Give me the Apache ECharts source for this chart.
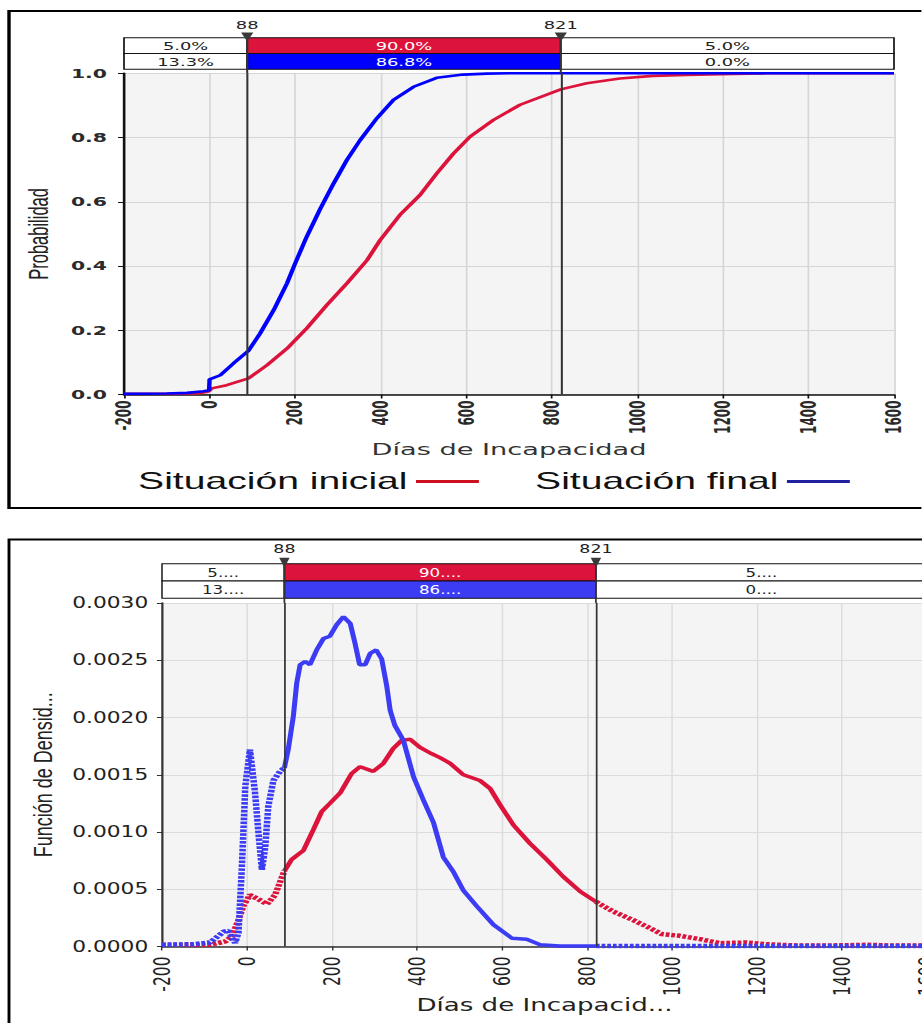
<!DOCTYPE html>
<html>
<head>
<meta charset="utf-8">
<script src="https://cdn.jsdelivr.net/npm/echarts@6/dist/echarts.min.js"></script>
<style>
  html, body { margin:0; padding:0; background:#fff; overflow:hidden; width:922px; height:1023px; }
  #top { position:absolute; left:0; top:0; width:542.35px; height:520px; transform:scaleX(1.7); transform-origin:0 0; }
  #bot { position:absolute; left:0; top:520px; width:635.86px; height:503px; transform:scaleX(1.45); transform-origin:0 0; }
</style>
</head>
<body>
<div id="top"></div>
<div id="bot"></div>
<script>
// ---------------- DATA ----------------
const xTicks = { min: -200, max: 1600, step: 200 };
const thresholds = [88, 821];
const seriesNames = ['Situación inicial', 'Situación final'];

// Top chart header (percentages per band)
const topRowInicial = ['5.0%', '90.0%', '5.0%'];
const topRowFinal = ['13.3%', '86.8%', '0.0%'];
// Bottom chart header (truncated labels)
const botRowInicial = ['5....', '90....', '5....'];
const botRowFinal = ['13....', '86....', '0....'];

// Cumulative probability – Situación inicial
const cdfInicialX = [-200, -30, -6, 0, 5, 40, 91, 134, 181, 227, 274, 321, 368, 399, 445, 492, 531, 570, 609, 664, 726, 821, 882, 959, 1037, 1115, 1224, 1300, 1600];
const cdfInicialY = [0.002, 0.003, 0.008, 0.012, 0.019, 0.029, 0.05, 0.091, 0.143, 0.206, 0.278, 0.346, 0.418, 0.481, 0.559, 0.621, 0.688, 0.75, 0.803, 0.855, 0.902, 0.95, 0.969, 0.984, 0.992, 0.995, 0.998, 1.0, 1.0];
// Cumulative probability – Situación final
const cdfFinalX = [-200, -100, -53, -14, -1, 0, 25, 56, 91, 118, 150, 181, 200, 227, 259, 290, 321, 352, 391, 430, 477, 531, 593, 648, 700, 1600];
const cdfFinalY = [0.002, 0.003, 0.005, 0.01, 0.013, 0.047, 0.06, 0.097, 0.136, 0.19, 0.263, 0.346, 0.408, 0.491, 0.579, 0.657, 0.73, 0.792, 0.86, 0.917, 0.958, 0.986, 0.996, 0.999, 1.0, 1.0];

// Density – Situación inicial
const pdfInicialX = [-200, -126, -87, -51, -36, -20, -8, 7, 23, 47, 66, 88, 105, 133, 156, 176, 195, 219, 246, 266, 297, 321, 344, 364, 384, 407, 431, 454, 478, 509, 548, 572, 595, 627, 666, 705, 744, 784, 821, 862, 909, 941, 976, 1019, 1066, 1113, 1176, 1223, 1293, 1400, 1458, 1520, 1600];
const pdfInicialY = [0.000015, 0.000015, 0.000015, 0.000044, 0.000087, 0.00023, 0.00036, 0.00045, 0.00042, 0.00037, 0.00045, 0.00066, 0.00076, 0.00084, 0.00102, 0.00118, 0.00125, 0.00134, 0.00151, 0.00157, 0.00153, 0.0016, 0.00173, 0.0018, 0.00181, 0.00174, 0.00169, 0.00165, 0.0016, 0.0015, 0.00145, 0.00138, 0.00124, 0.00106, 0.0009, 0.00076, 0.00061, 0.00048, 0.00039, 0.000305, 0.00023, 0.000174, 0.000108, 0.000093, 0.000064, 0.000029, 0.000035, 0.00002, 0.000009, 0.00001, 0.000015, 0.000008, 0.000008];
// Density – Situación final
const pdfFinalX = [-200, -126, -87, -55, -44, -28, -20, -12, -4, 7, 19, 27, 35, 43, 50, 62, 78, 88, 97, 109, 117, 125, 137, 148, 164, 180, 195, 211, 227, 243, 254, 265, 278, 290, 304, 317, 329, 337, 348, 368, 392, 415, 439, 462, 486, 509, 541, 580, 623, 658, 690, 736, 800, 821, 1000, 1200, 1400, 1600];
const pdfFinalY = [0.000015, 0.00002, 0.000035, 0.00013, 0.000137, 0.00003, 0.00012, 0.0007, 0.0014, 0.00172, 0.00134, 0.00099, 0.00067, 0.00087, 0.00122, 0.00145, 0.00153, 0.00156, 0.00172, 0.00201, 0.0023, 0.00246, 0.00249, 0.00246, 0.00259, 0.00269, 0.00271, 0.00281, 0.00288, 0.00282, 0.00265, 0.00246, 0.00246, 0.00256, 0.00259, 0.00251, 0.00227, 0.00206, 0.00193, 0.0018, 0.00148, 0.00128, 0.00108, 0.00078, 0.00065, 0.00049, 0.00035, 0.00019, 0.000073, 0.000064, 0.000015, 0.000005, 0.000005, 0.000005, 0.000005, 0.000005, 0.000005, 0.000005];

// ---------------- HELPERS ----------------
const RED = '#dc143c';
const FONT = 'DejaVu Sans';
const zip = (xs, ys) => xs.map((x, i) => [x, ys[i]]);
const seg = (xs, ys, lo, hi) => zip(xs, ys).filter(p => p[0] >= lo && p[0] <= hi);
const bounds = [xTicks.min, ...thresholds, xTicks.max];

function headerCells(rows, fills, font, gi) {
  const data = [];
  const labels = [];
  rows.forEach((row, r) => row.forEach((t, i) => { data.push([bounds[i], bounds[i + 1], r, i]); labels.push(t); }));
  return {
    type: 'custom', xAxisIndex: gi, yAxisIndex: gi, silent: true, z: 5,
    data,
    renderItem(params, api) {
      const x0 = api.value(0), x1 = api.value(1), r = api.value(2), i = api.value(3);
      const p0 = api.coord([x0, 2 - r]), p1 = api.coord([x1, 1 - r]);
      const mid = i === 1;
      return { type: 'group', children: [
        { type: 'rect', shape: { x: p0[0], y: p0[1], width: p1[0] - p0[0], height: p1[1] - p0[1] },
          style: { fill: mid ? fills[r] : '#ffffff', stroke: '#111', lineWidth: 1 } },
        { type: 'text', x: (p0[0] + p1[0]) / 2, y: (p0[1] + p1[1]) / 2 + 0.5,
          style: { text: labels[params.dataIndex], fill: mid ? '#ffffff' : '#222', font, align: 'center', verticalAlign: 'middle' } }
      ] };
    }
  };
}

function headerMarkers(gi, yMin, font, tw, tUp, tDown, lblOff) {
  return {
    type: 'custom', xAxisIndex: gi, yAxisIndex: gi, silent: true, z: 6,
    data: thresholds.map(t => [t]),
    renderItem(params, api) {
      const t = api.value(0);
      const a = api.coord([t, 2]), b = api.coord([t, yMin]);
      return { type: 'group', children: [
        { type: 'line', shape: { x1: a[0], y1: a[1], x2: b[0], y2: b[1] }, style: { stroke: '#333', lineWidth: 1.2 } },
        { type: 'polygon', shape: { points: [[a[0] - tw, a[1] - tUp], [a[0] + tw, a[1] - tUp], [a[0], a[1] + tDown]] }, style: { fill: '#3a3a3a' } },
        { type: 'text', x: a[0], y: a[1] - lblOff, style: { text: String(t), font, fill: '#222', align: 'center', verticalAlign: 'middle' } }
      ] };
    }
  };
}

function hiddenAxes(gi, yMin) {
  return {
    x: { gridIndex: gi, type: 'value', min: xTicks.min, max: xTicks.max, show: false },
    y: { gridIndex: gi, type: 'value', min: yMin, max: 2, show: false }
  };
}

const threshMarkLine = {
  silent: true, symbol: 'none', animation: false,
  label: { show: false },
  lineStyle: { color: '#333', width: 1.2, type: 'solid' },
  data: thresholds.map(t => ({ xAxis: t }))
};

// ---------------- TOP CHART ----------------
const S1 = 1.7;
const topHdrMin = -0.25;
const hT = hiddenAxes(1, topHdrMin);
const topChart = echarts.init(document.getElementById('top'), null, { renderer: 'svg' });
topChart.setOption({
  animation: false,
  grid: [
    { left: 124 / S1, width: 770 / S1, top: 73.3, height: 321.2, show: true, backgroundColor: '#f4f4f4', borderWidth: 0, outerBoundsMode: 'none', containLabel: false },
    { left: 124 / S1, width: 770 / S1, top: 37.7, height: 35.6, show: false, outerBoundsMode: 'none', containLabel: false }
  ],
  xAxis: [
    { gridIndex: 0, type: 'value', min: xTicks.min, max: xTicks.max, interval: xTicks.step,
      name: 'Días de Incapacidad', nameLocation: 'middle', nameGap: 47, nameMoveOverlap: false,
      nameTextStyle: { fontFamily: FONT, fontSize: 16, color: '#333' },
      axisLine: { show: true, onZero: false, lineStyle: { color: '#111', width: 1.5 } },
      axisTick: { show: true, length: 4, lineStyle: { color: '#111' } },
      axisLabel: { rotate: 90, formatter: v => String(v), fontFamily: FONT, fontWeight: 'bold', fontSize: 12, color: '#2a2a2a', margin: 6 },
      splitLine: { show: true, lineStyle: { color: '#d6d6d6', width: 1 } } },
    hT.x
  ],
  yAxis: [
    { gridIndex: 0, type: 'value', min: 0, max: 1, interval: 0.2,
      name: 'Probabilidad', nameLocation: 'middle', nameGap: 36,
      nameTextStyle: { fontFamily: 'Liberation Sans', fontSize: 16.5, color: '#222' },
      axisLine: { show: true, onZero: false, lineStyle: { color: '#111', width: 1.5 } },
      axisTick: { show: true, length: 3.5, lineStyle: { color: '#111' } },
      axisLabel: { formatter: v => v.toFixed(1), fontFamily: FONT, fontWeight: 'bold', fontSize: 12, color: '#2a2a2a', margin: 10 },
      splitLine: { show: true, lineStyle: { color: '#d6d6d6', width: 1 } } },
    hT.y
  ],
  legend: {
    left: 138 / S1, top: 470, padding: 0, align: 'right', icon: 'rect', itemWidth: 37, itemHeight: 3, itemGap: 33,
    selectedMode: false,
    textStyle: { fontFamily: 'Liberation Sans', fontSize: 23, color: '#111' },
    data: [
      { name: seriesNames[0], itemStyle: { color: '#cc1020' } },
      { name: seriesNames[1], itemStyle: { color: '#2020a0' } }
    ]
  },
  graphic: [
    { type: 'rect', silent: true, shape: { x: 9 / S1, y: 11, width: 620, height: 497 }, style: { fill: 'none', stroke: '#000', lineWidth: 2 } }
  ],
  series: [
    { name: seriesNames[0], type: 'line', xAxisIndex: 0, yAxisIndex: 0, showSymbol: false, symbol: 'none', color: RED,
      lineStyle: { color: RED, width: 2.6 }, data: zip(cdfInicialX, cdfInicialY), markLine: threshMarkLine, z: 2 },
    { name: seriesNames[1], type: 'line', xAxisIndex: 0, yAxisIndex: 0, showSymbol: false, symbol: 'none', color: '#0000ff',
      lineStyle: { color: '#0000ff', width: 2.6 }, data: zip(cdfFinalX, cdfFinalY), z: 3 },
    headerCells([topRowInicial, topRowFinal], [RED, '#0000ff'], '10.5px "DejaVu Sans"', 1),
    headerMarkers(1, topHdrMin, '10.5px "DejaVu Sans"', 3.6, 5.2, 3.8, 12.4)
  ]
});

// ---------------- BOTTOM CHART ----------------
const S2 = 1.45;
const BLUE2 = '#3c3cf5';
const botHdrMin = -0.27;
const hB = hiddenAxes(1, botHdrMin);
const dashed = { type: [2.6, 1.3], width: 4.5, cap: 'butt' };
function densitySeries(name, xs, ys, color, z) {
  return [
    { name, type: 'line', xAxisIndex: 0, yAxisIndex: 0, showSymbol: false, symbol: 'none', color, z,
      lineStyle: Object.assign({ color }, dashed), data: seg(xs, ys, -Infinity, thresholds[0]) },
    { name, type: 'line', xAxisIndex: 0, yAxisIndex: 0, showSymbol: false, symbol: 'none', color, z,
      lineStyle: { color, width: 3.5 }, data: seg(xs, ys, thresholds[0], thresholds[1]) },
    { name, type: 'line', xAxisIndex: 0, yAxisIndex: 0, showSymbol: false, symbol: 'none', color, z,
      lineStyle: Object.assign({ color }, dashed), data: seg(xs, ys, thresholds[1], Infinity) }
  ];
}
const botSeries = [
  ...densitySeries(seriesNames[0], pdfInicialX, pdfInicialY, RED, 2),
  ...densitySeries(seriesNames[1], pdfFinalX, pdfFinalY, BLUE2, 3)
];
botSeries[1].markLine = threshMarkLine;
botSeries.push(headerCells([botRowInicial, botRowFinal], [RED, BLUE2], '11.5px "DejaVu Sans"', 1));
botSeries.push(headerMarkers(1, botHdrMin, '12px "DejaVu Sans"', 3.6, 6, 4, 15));

const botChart = echarts.init(document.getElementById('bot'), null, { renderer: 'svg' });
botChart.setOption({
  animation: false,
  grid: [
    { left: 162 / S2, width: 765 / S2, top: 83, height: 343.5, show: true, backgroundColor: '#f4f4f4', borderWidth: 0, outerBoundsMode: 'none', containLabel: false },
    { left: 162 / S2, width: 765 / S2, top: 43.7, height: 39.3, show: false, outerBoundsMode: 'none', containLabel: false }
  ],
  xAxis: [
    { gridIndex: 0, type: 'value', min: xTicks.min, max: xTicks.max, interval: xTicks.step,
      name: 'Días de Incapacid...', nameLocation: 'middle', nameGap: 49, nameMoveOverlap: false,
      nameTextStyle: { fontFamily: FONT, fontSize: 18, color: '#222' },
      axisLine: { show: true, onZero: false, lineStyle: { color: '#333', width: 1.5 } },
      axisTick: { show: true, length: 4, lineStyle: { color: '#333' } },
      axisLabel: { rotate: 90, formatter: v => String(v), fontFamily: FONT, fontSize: 15.5, color: '#222', margin: 10 },
      splitLine: { show: true, lineStyle: { color: '#dcdcdc', width: 1 } } },
    hB.x
  ],
  yAxis: [
    { gridIndex: 0, type: 'value', min: 0, max: 0.003, interval: 0.0005,
      name: 'Función de Densid...', nameLocation: 'middle', nameGap: 70,
      nameTextStyle: { fontFamily: 'Liberation Sans', fontSize: 18, color: '#222' },
      axisLine: { show: true, onZero: false, lineStyle: { color: '#333', width: 1.5 } },
      axisTick: { show: true, length: 3.5, lineStyle: { color: '#333' } },
      axisLabel: { formatter: v => v.toFixed(4), fontFamily: FONT, fontSize: 15, color: '#222', margin: 9.5 },
      splitLine: { show: true, lineStyle: { color: '#dcdcdc', width: 1 } } },
    hB.y
  ],
  graphic: [
    { type: 'rect', silent: true, shape: { x: 9 / S2, y: 19.5, width: 700, height: 600 }, style: { fill: 'none', stroke: '#000', lineWidth: 2 } }
  ],
  series: botSeries
});
</script>
</body>
</html>
